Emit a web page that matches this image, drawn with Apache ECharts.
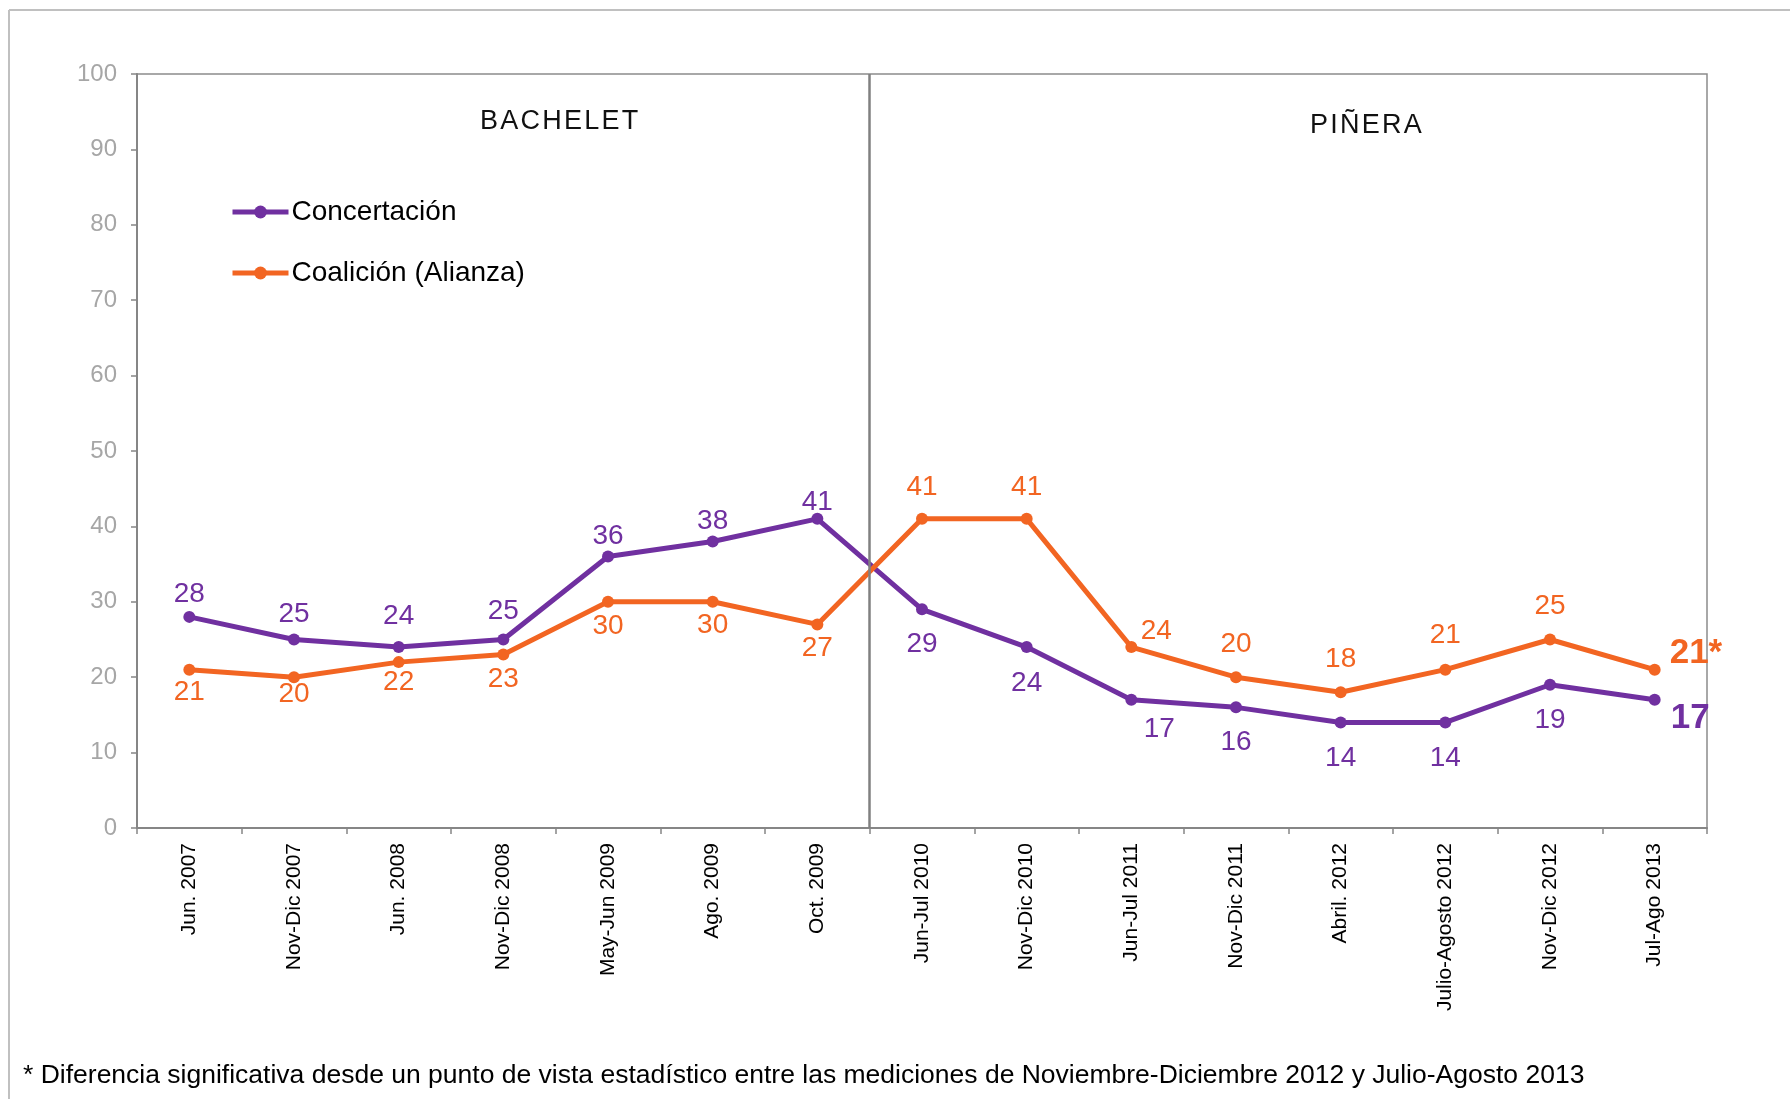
<!DOCTYPE html>
<html>
<head>
<meta charset="utf-8">
<script src="https://cdn.jsdelivr.net/npm/echarts@6/dist/echarts.min.js"></script>
<style>
html,body{margin:0;padding:0;background:#fff;}
#chart{width:1790px;height:1099px;}
</style>
</head>
<body>
<div id="chart"></div>
<script>
const categories = ['Jun. 2007','Nov-Dic 2007','Jun. 2008','Nov-Dic 2008','May-Jun 2009','Ago. 2009','Oct. 2009','Jun-Jul 2010','Nov-Dic 2010','Jun-Jul 2011','Nov-Dic 2011','Abril. 2012','Julio-Agosto 2012','Nov-Dic 2012','Jul-Ago 2013'];
const concertacion = [28,25,24,25,36,38,41,29,24,17,16,14,14,19,17];
const coalicion = [21,20,22,23,30,30,27,41,41,24,20,18,21,25,21];
const seriesNames = ['Concertación','Coalición (Alianza)'];
const periodLabels = ['BACHELET','PIÑERA'];
const periodBreak = 7; // boundary index between the two periods
const footnote = '* Diferencia significativa desde un punto de vista estadístico entre las mediciones de Noviembre-Diciembre 2012 y Julio-Agosto 2013';

// label placement (offset of label centre from point, px)
const purpleOffsets = [[0,-23],[0,-25],[0,-31],[0,-28],[0,-20],[0,-20],[0,-17],[0,35],[0,36],[28,29],[0,35],[0,36],[0,36],[0,36],[16,19]];
const orangeOffsets = [[0,23],[0,17],[0,20],[0,25],[0,24],[0,23],[0,24],[0,-32],[0,-32],[25,-16],[0,-33],[0,-33],[0,-34],[0,-33],[15,-16]];

const PURPLE = '#7030a0';
const ORANGE = '#f26522';
const FONT = '"Liberation Sans", Arial, sans-serif';

function buildData(values, offsets, color, lastSuffix) {
  return values.map((v, i) => {
    const last = i === values.length - 1;
    return {
      value: v,
      label: last ? {
        offset: offsets[i], align: 'left', verticalAlign: 'middle',
        fontSize: 35, fontWeight: 'bold', color: color,
        formatter: '{c}' + lastSuffix
      } : {
        offset: offsets[i], align: 'center', verticalAlign: 'middle'
      }
    };
  });
}

const chart = echarts.init(document.getElementById('chart'));
const option = {
  animation: false,
  backgroundColor: '#fff',
  textStyle: {fontFamily: FONT},
  grid: {left: 137, right: 83, top: 74, bottom: 271, show: true, borderColor: '#8c8c8c', borderWidth: 1.5, backgroundColor: 'transparent'},
  legend: {
    data: seriesNames,
    orient: 'vertical',
    left: 225, top: 193,
    itemWidth: 56, itemHeight: 16, itemGap: 33,
    lineStyle: {width: 5},
    textStyle: {fontSize: 28, color: '#000', fontFamily: FONT, padding: [0,0,0,-2]}
  },
  xAxis: [{
    type: 'category',
    data: categories,
    boundaryGap: true,
    axisLine: {lineStyle: {color: '#868686', width: 2}},
    axisTick: {show: true, length: 6, lineStyle: {color: '#868686', width: 1.5}},
    axisLabel: {rotate: 90, interval: 0, fontSize: 21, color: '#000', margin: 15, fontFamily: FONT},
    splitLine: {show: false}
  }, {
    type: 'value', min: 0, max: categories.length, show: false
  }],
  yAxis: {
    type: 'value', min: 0, max: 100, interval: 10,
    axisLine: {show: true, lineStyle: {color: '#868686', width: 2}},
    axisTick: {show: true, length: 6, lineStyle: {color: '#868686', width: 1.5}},
    axisLabel: {fontSize: 24, color: '#a6a6a6', margin: 20, fontFamily: FONT},
    splitLine: {show: false}
  },
  series: [{
    name: seriesNames[0], type: 'line',
    data: buildData(concertacion, purpleOffsets, PURPLE, ''),
    symbol: 'circle', symbolSize: 12,
    lineStyle: {color: PURPLE, width: 5},
    itemStyle: {color: PURPLE},
    label: {show: true, position: 'inside', fontSize: 28, color: PURPLE, fontFamily: FONT},
    z: 3
  }, {
    name: seriesNames[1], type: 'line',
    data: buildData(coalicion, orangeOffsets, ORANGE, '*'),
    symbol: 'circle', symbolSize: 12,
    lineStyle: {color: ORANGE, width: 5},
    itemStyle: {color: ORANGE},
    label: {show: true, position: 'inside', fontSize: 28, color: ORANGE, fontFamily: FONT},
    z: 4
  }, {
    type: 'line', xAxisIndex: 1, data: [], showSymbol: false,
    markLine: {
      silent: true, symbol: 'none', label: {show: false},
      lineStyle: {color: '#808080', width: 2.5, type: 'solid'},
      data: [{xAxis: periodBreak}]
    },
    z: 2
  }],
  graphic: [
    {type: 'line', shape: {x1: 9, y1: 10, x2: 1790, y2: 10}, style: {stroke: '#c0c0c0', lineWidth: 2}},
    {type: 'line', shape: {x1: 9, y1: 10, x2: 9, y2: 1099}, style: {stroke: '#c0c0c0', lineWidth: 2}},
    {type: 'text', left: 480, top: 108, style: {text: periodLabels[0].split('').join('\u200A'), font: '27px ' + FONT, fill: '#111'}},
    {type: 'text', left: 1310, top: 112, style: {text: periodLabels[1].split('').join('\u200A'), font: '27px ' + FONT, fill: '#111'}},
    {type: 'text', left: 23, top: 1062, style: {text: footnote, font: '26.5px ' + FONT, fill: '#000'}}
  ]
};
chart.setOption(option);
</script>
</body>
</html>
